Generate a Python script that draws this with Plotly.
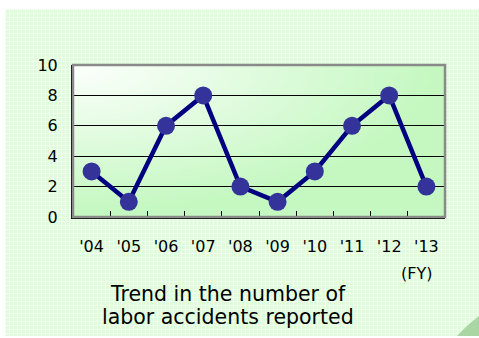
import base64
import struct
import zlib

import plotly.graph_objects as go

# Labor accidents reported per fiscal year
years = ["'04", "'05", "'06", "'07", "'08", "'09", "'10", "'11", "'12", "'13"]
accidents = [3, 1, 6, 8, 2, 1, 3, 6, 8, 2]

y_ticks = [0, 2, 4, 6, 8, 10]
title_lines = ["Trend in the number of", "labor accidents reported"]
unit_label = "(FY)"

W, H = 479, 338
FONT = "DejaVu Sans"


def png_uri(rows):
    """Encode a list of RGB pixel rows as a PNG data URI."""
    h, w = len(rows), len(rows[0])
    raw = b"".join(b"\x00" + bytes(c for px in row for c in px) for row in rows)

    def chunk(tag, data):
        return (struct.pack(">I", len(data)) + tag + data
                + struct.pack(">I", zlib.crc32(tag + data) & 0xFFFFFFFF))

    png = (b"\x89PNG\r\n\x1a\n"
           + chunk(b"IHDR", struct.pack(">IIBBBBB", w, h, 8, 2, 0, 0, 0))
           + chunk(b"IDAT", zlib.compress(raw, 9))
           + chunk(b"IEND", b""))
    return "data:image/png;base64," + base64.b64encode(png).decode()


# Textured pale-green card behind the chart
card_w, card_h = 474, 327
base, light = (222, 252, 218), (240, 255, 238)
card_rows = [[light if (i % 4 == 0 or j % 4 == 0) else base for i in range(card_w)]
             for j in range(card_h)]
card_img = png_uri(card_rows)

# Plot-area fill: white in the top-left corner fading to green
gw, gh = 60, 30
c0, c1 = (252, 255, 252), (196, 248, 192)
grad_rows = []
for j in range(gh):
    row = []
    for i in range(gw):
        u, v = i / (gw - 1), j / (gh - 1)
        t = min(1.0, (u * u + v * v) ** 0.5)
        row.append(tuple(int(round(a + (b - a) * t)) for a, b in zip(c0, c1)))
    grad_rows.append(row)
grad_img = png_uri(grad_rows)


def px(x):
    return x / W


def py(y):
    return 1 - y / H


fig = go.Figure()
fig.add_trace(go.Scatter(
    x=years, y=accidents, mode="lines+markers",
    line=dict(color="#000080", width=4.5),
    marker=dict(size=18, color="#333399"),
    hoverinfo="skip", showlegend=False,
))

fig.update_layout(
    width=W, height=H,
    margin=dict(l=0, r=0, t=0, b=0),
    paper_bgcolor="white",
    plot_bgcolor="rgba(0,0,0,0)",
    font=dict(family=FONT, color="black"),
    xaxis=dict(
        domain=[px(73), px(445)], automargin=False,
        type="category", range=[-0.5, 9.5],
        tickson="boundaries", ticks="inside", ticklen=6, tickwidth=1, tickcolor="black",
        showline=True, linecolor="black", linewidth=2,
        showgrid=False, zeroline=False,
        tickfont=dict(size=16), ticklabelstandoff=14,
        fixedrange=True,
    ),
    yaxis=dict(
        domain=[py(217), py(65)], automargin=False,
        range=[0, 10], tickvals=y_ticks,
        ticks="inside", ticklen=6, tickwidth=1, tickcolor="black",
        showline=True, linecolor="black", linewidth=2,
        showgrid=True, gridcolor="black", gridwidth=1, zeroline=False,
        tickfont=dict(size=16), ticklabelstandoff=10,
        fixedrange=True,
    ),
    images=[
        dict(source=card_img, xref="paper", yref="paper",
             x=px(5), y=py(9), sizex=card_w / W, sizey=card_h / H,
             xanchor="left", yanchor="top", sizing="stretch", layer="below"),
        dict(source=grad_img, xref="x", yref="y",
             x=-0.5, y=10, sizex=10, sizey=10,
             xanchor="left", yanchor="top", sizing="stretch", layer="below"),
    ],
    shapes=[
        # grey frame on the top and right of the plot area
        dict(type="rect", xref="x domain", yref="y domain", x0=0, x1=1, y0=0, y1=1,
             line=dict(color="#8a8a8a", width=2.5), fillcolor="rgba(0,0,0,0)", layer="above"),
        # curled page corner
        dict(type="path", xref="paper", yref="paper",
             path=(f"M {px(457)} {py(336)} Q {px(466)} {py(326)} {px(479)} {py(316)} "
                   f"L {px(479)} {py(336)} Z"),
             fillcolor="#a9d6a2", line=dict(width=0), layer="below"),
    ],
    annotations=[
        dict(text=unit_label, xref="paper", yref="paper", x=px(416), y=py(273),
             showarrow=False, font=dict(size=16), xanchor="center", yanchor="middle"),
        dict(text=title_lines[0], xref="paper", yref="paper", x=px(228), y=py(294),
             showarrow=False, font=dict(size=20.5), xanchor="center", yanchor="middle",
             height=22),
        dict(text=title_lines[1], xref="paper", yref="paper", x=px(228), y=py(317),
             showarrow=False, font=dict(size=20.5), xanchor="center", yanchor="middle",
             height=22),
    ],
)

fig.write_html("out.html")
